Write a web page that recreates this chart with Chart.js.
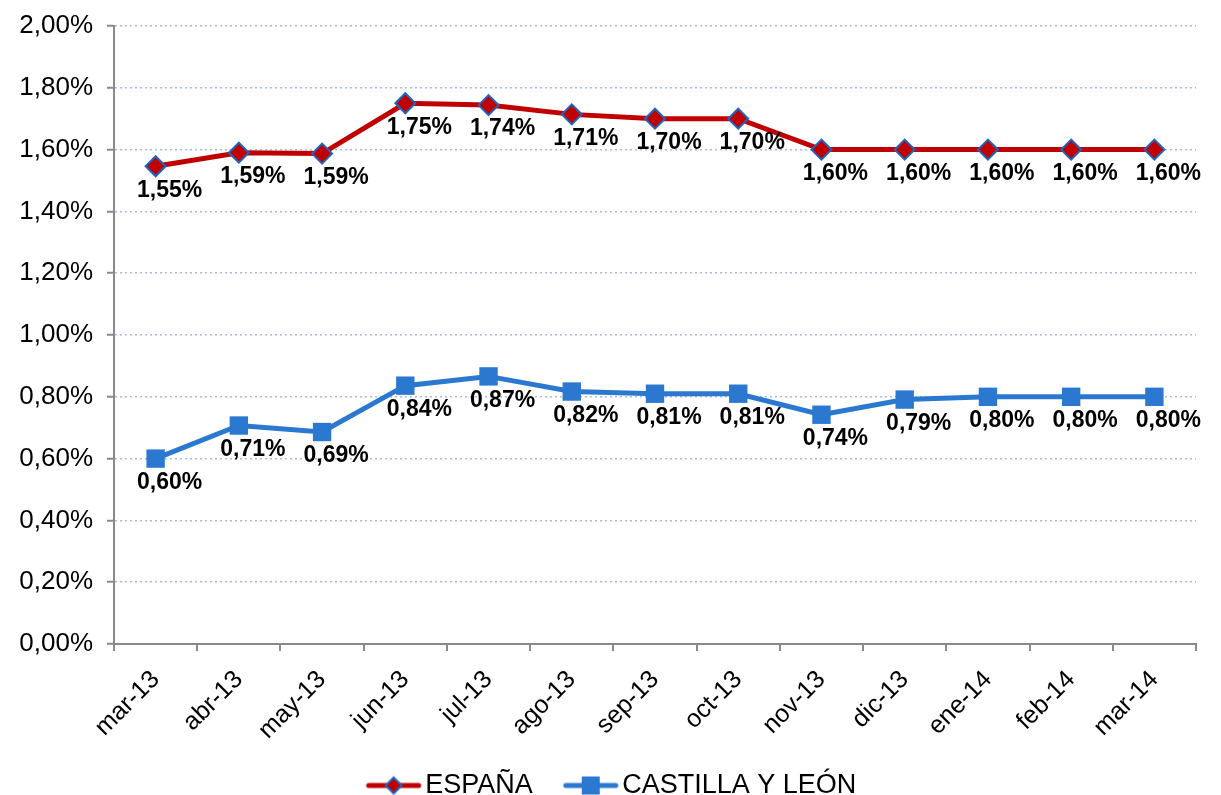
<!DOCTYPE html>
<html>
<head>
<meta charset="utf-8">
<script src="https://cdn.jsdelivr.net/npm/chart.js@4/dist/chart.umd.min.js"></script>
<style>
  html, body { margin: 0; padding: 0; background: #fff; }
  #wrap { width: 1221px; height: 795px; }
</style>
</head>
<body>
<div id="wrap"><canvas id="chart"></canvas></div>
<script>
const months = ['mar-13', 'abr-13', 'may-13', 'jun-13', 'jul-13', 'ago-13', 'sep-13',
                'oct-13', 'nov-13', 'dic-13', 'ene-14', 'feb-14', 'mar-14'];
const espana = [1.546, 1.59, 1.587, 1.75, 1.744, 1.714, 1.70, 1.70, 1.60, 1.60, 1.60, 1.60, 1.60];
const castilla = [0.60, 0.707, 0.686, 0.836, 0.866, 0.817, 0.81, 0.81, 0.742, 0.791, 0.80, 0.80, 0.80];
const yTicks = [0, 0.2, 0.4, 0.6, 0.8, 1.0, 1.2, 1.4, 1.6, 1.8, 2.0];

const RED = '#c00000';
const BLUE = '#2b78d0';
const GRID = '#a9b9e2';
const AXIS = '#8a8a8a';
const FONT = '"Liberation Sans", Arial, sans-serif';

function pct(v) {
    return v.toFixed(2).replace('.', ',') + '%';
}

// legend symbol: line with the marker in the middle.
// the canvas is wider than the item box; the symbol sits to its right part
function legendSymbol(color, marker) {
    const c = document.createElement('canvas');
    c.width = 140; c.height = 22;
    const g = c.getContext('2d');
    const x0 = 60, mid = x0 + 28;
    g.strokeStyle = color;
    g.lineWidth = 5;
    g.lineCap = 'round';
    g.beginPath(); g.moveTo(x0 + 3, 11); g.lineTo(x0 + 53, 11); g.stroke();
    if (marker === 'diamond') {
        g.beginPath();
        g.moveTo(mid, 3); g.lineTo(mid + 8, 11); g.lineTo(mid, 19); g.lineTo(mid - 8, 11); g.closePath();
        g.fillStyle = RED; g.fill();
        g.lineWidth = 2; g.strokeStyle = '#1f66c0'; g.stroke();
    } else {
        g.fillStyle = BLUE;
        g.fillRect(mid - 9, 2, 18, 18);
    }
    return c;
}
const symbols = [legendSymbol(RED, 'diamond'), legendSymbol(BLUE, 'square')];

const pointLabels = {
    id: 'pointLabels',
    afterLayout(chart) {
        // push the legend a bit lower, closer to the bottom edge
        const lg = chart.legend;
        if (lg) { lg.top += 14; lg.bottom += 14; }
    },
    // data labels below each point
    afterDatasetsDraw(chart) {
        const ctx = chart.ctx;
        ctx.save();
        ctx.font = 'bold 23px ' + FONT;
        ctx.fillStyle = '#000';
        ctx.textAlign = 'center';
        ctx.textBaseline = 'middle';
        chart.data.datasets.forEach((ds, i) => {
            chart.getDatasetMeta(i).data.forEach((el, j) => {
                ctx.fillText(pct(ds.data[j]), el.x + 14, el.y + 24);
            });
        });
        ctx.restore();
    }
};

new Chart(document.getElementById('chart'), {
    type: 'line',
    data: {
        labels: months,
        datasets: [{
            label: 'ESPAÑA',
            data: espana,
            borderColor: RED,
            borderWidth: 5,
            pointStyle: 'rectRot',
            pointRadius: 10,
            pointHoverRadius: 10,
            pointBackgroundColor: RED,
            pointBorderColor: '#1f66c0',
            pointBorderWidth: 2,
            tension: 0
        }, {
            label: 'CASTILLA Y LEÓN',
            data: castilla,
            borderColor: BLUE,
            borderWidth: 5,
            pointStyle: 'rect',
            pointRadius: 13,
            pointHoverRadius: 13,
            pointBackgroundColor: BLUE,
            pointBorderColor: BLUE,
            pointBorderWidth: 0,
            tension: 0
        }]
    },
    options: {
        responsive: true,
        maintainAspectRatio: false,
        animation: false,
        layout: { padding: { top: 26, right: 25, left: 0, bottom: 0 } },
        scales: {
            x: {
                offset: true,
                afterFit(scale) { scale.height = 110; },
                grid: {
                    offset: true,
                    drawOnChartArea: false,
                    drawTicks: true,
                    tickLength: 7,
                    color: AXIS,
                    lineWidth: 2
                },
                border: { color: AXIS, width: 2 },
                ticks: {
                    color: '#000',
                    font: { family: FONT, size: 25 },
                    minRotation: 45,
                    maxRotation: 45,
                    padding: 14
                }
            },
            y: {
                min: 0,
                max: 2,
                afterFit(scale) {
                    scale.width = 114;
                    scale.paddingTop = 0;
                    scale.paddingBottom = 0;
                },
                afterBuildTicks(scale) { scale.ticks = yTicks.map(v => ({ value: v })); },
                grid: {
                    color: GRID,
                    lineWidth: 1.5,
                    tickColor: AXIS,
                    tickLength: 7,
                    tickWidth: 2
                },
                border: { color: AXIS, width: 2, dash: [2, 3] },
                ticks: {
                    color: '#000',
                    padding: 14,
                    font: { family: FONT, size: 26 },
                    callback: v => pct(v)
                }
            }
        },
        plugins: {
            legend: {
                position: 'bottom',
                labels: {
                    usePointStyle: true,
                    pointStyleWidth: 72,
                    padding: 4,
                    color: '#000',
                    font: { family: FONT, size: 27 },
                    generateLabels(chart) {
                        const items = Chart.defaults.plugins.legend.labels.generateLabels(chart);
                        items.forEach((it, i) => { it.pointStyle = symbols[i]; });
                        return items;
                    }
                }
            },
            tooltip: { enabled: false }
        }
    },
    plugins: [pointLabels]
});
</script>
</body>
</html>
